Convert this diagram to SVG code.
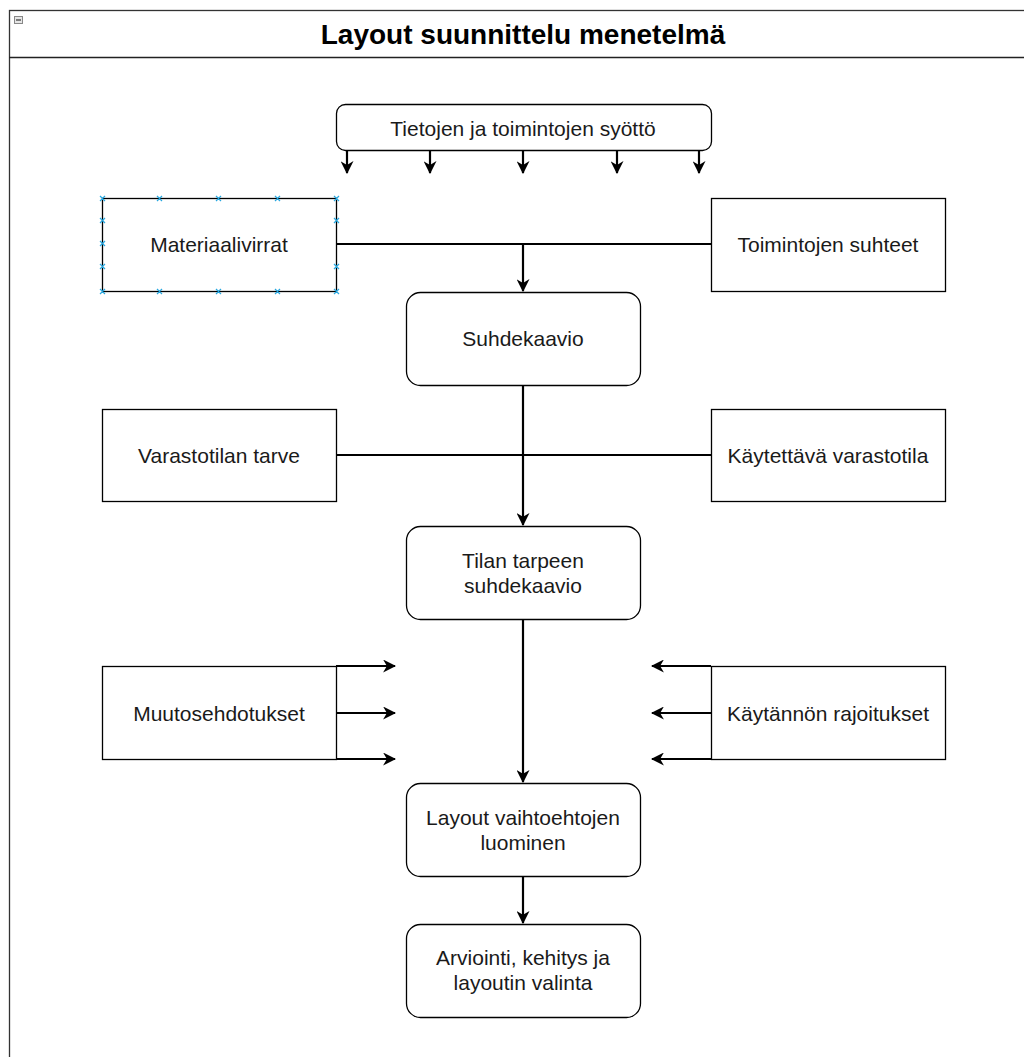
<svg xmlns="http://www.w3.org/2000/svg" width="1024" height="1057" viewBox="0 0 1024 1057">
<style>
.box{fill:#fff;stroke:#000;stroke-width:1.3}
.t{font-family:"Liberation Sans",Arial,sans-serif;font-size:21px;fill:#1a1a1a;text-anchor:middle;dominant-baseline:central}
.ttl{font-family:"Liberation Sans",Arial,sans-serif;font-size:28px;font-weight:bold;fill:#000;text-anchor:middle;dominant-baseline:central}
.c{fill:none;stroke:#000;stroke-width:2.2}
.h{stroke:#29a8e0;stroke-width:1.2}
</style>
<defs>
<marker id="b" viewBox="0 0 12 12" refX="11" refY="6" markerWidth="13" markerHeight="13" markerUnits="userSpaceOnUse" orient="auto">
<path d="M0,0 L12,6 L0,12 L3.5,6 z" fill="#000"/>
</marker>
</defs>
<rect width="1024" height="1057" fill="#fff"/>
<g id="container">
<rect x="9.5" y="10.5" width="1030" height="1060" fill="#fff" stroke="#333" stroke-width="1.3"/>
<line x1="9" y1="57.5" x2="1024" y2="57.5" stroke="#222" stroke-width="1.3"/>
<rect x="14.5" y="16.5" width="8" height="7" fill="#e6e6e6" stroke="#888" stroke-width="1"/>
<line x1="16" y1="20" x2="21" y2="20" stroke="#333" stroke-width="1.2"/>
<text class="ttl" x="523" y="34">Layout suunnittelu menetelmä</text>
</g>
<g id="connectors">
<line class="c" x1="347" y1="150" x2="347" y2="173" marker-end="url(#b)"/>
<line class="c" x1="430" y1="150" x2="430" y2="173" marker-end="url(#b)"/>
<line class="c" x1="523" y1="150" x2="523" y2="173" marker-end="url(#b)"/>
<line class="c" x1="617" y1="150" x2="617" y2="173" marker-end="url(#b)"/>
<line class="c" x1="699" y1="150" x2="699" y2="173" marker-end="url(#b)"/>
<line class="c" x1="336" y1="244" x2="711" y2="244"/>
<line class="c" x1="523" y1="244" x2="523" y2="291" marker-end="url(#b)"/>
<line class="c" x1="336" y1="455" x2="711" y2="455"/>
<line class="c" x1="523" y1="385" x2="523" y2="525" marker-end="url(#b)"/>
<line class="c" x1="523" y1="619" x2="523" y2="782" marker-end="url(#b)"/>
<line class="c" x1="523" y1="877" x2="523" y2="923" marker-end="url(#b)"/>
<line class="c" x1="336" y1="666" x2="395" y2="666" marker-end="url(#b)"/>
<line class="c" x1="336" y1="713" x2="395" y2="713" marker-end="url(#b)"/>
<line class="c" x1="336" y1="759" x2="395" y2="759" marker-end="url(#b)"/>
<line class="c" x1="711" y1="666" x2="652" y2="666" marker-end="url(#b)"/>
<line class="c" x1="711" y1="713" x2="652" y2="713" marker-end="url(#b)"/>
<line class="c" x1="711" y1="759" x2="652" y2="759" marker-end="url(#b)"/>
</g>
<g id="n-syotto"><rect class="box" x="336.5" y="104.5" width="375" height="46" rx="9"/><text class="t" x="523" y="128">Tietojen ja toimintojen syöttö</text></g>
<g id="n-materiaalivirrat"><rect class="box" x="102.5" y="198.5" width="234" height="93"/><text class="t" x="219" y="244">Materiaalivirrat</text>
<g class="h">
<path d="M100,196l5,5m0,-5l-5,5M157,196l5,5m0,-5l-5,5M216,196l5,5m0,-5l-5,5M275,196l5,5m0,-5l-5,5M334,196l5,5m0,-5l-5,5"/>
<path d="M100,289l5,5m0,-5l-5,5M157,289l5,5m0,-5l-5,5M216,289l5,5m0,-5l-5,5M275,289l5,5m0,-5l-5,5M334,289l5,5m0,-5l-5,5"/>
<path d="M100,218l5,5m0,-5l-5,5M100,241l5,5m0,-5l-5,5M100,264l5,5m0,-5l-5,5M334,218l5,5m0,-5l-5,5M334,264l5,5m0,-5l-5,5"/>
</g></g>
<g id="n-toimintojen"><rect class="box" x="711.5" y="198.5" width="234" height="93"/><text class="t" x="828" y="244">Toimintojen suhteet</text></g>
<g id="n-suhdekaavio"><rect class="box" x="406.5" y="292.5" width="234" height="93" rx="14"/><text class="t" x="523" y="338">Suhdekaavio</text></g>
<g id="n-varastotilan"><rect class="box" x="102.5" y="409.5" width="234" height="92"/><text class="t" x="219" y="455">Varastotilan tarve</text></g>
<g id="n-kaytettava"><rect class="box" x="711.5" y="409.5" width="234" height="92"/><text class="t" x="828" y="455">Käytettävä varastotila</text></g>
<g id="n-tilan"><rect class="box" x="406.5" y="526.5" width="234" height="93" rx="14"/><text class="t" x="523" y="560">Tilan tarpeen</text><text class="t" x="523" y="585">suhdekaavio</text></g>
<g id="n-muutos"><rect class="box" x="102.5" y="666.5" width="234" height="93"/><text class="t" x="219" y="713">Muutosehdotukset</text></g>
<g id="n-kaytannon"><rect class="box" x="711.5" y="666.5" width="234" height="93"/><text class="t" x="828" y="713">Käytännön rajoitukset</text></g>
<g id="n-layout"><rect class="box" x="406.5" y="783.5" width="234" height="93" rx="14"/><text class="t" x="523" y="817">Layout vaihtoehtojen</text><text class="t" x="523" y="842">luominen</text></g>
<g id="n-arviointi"><rect class="box" x="406.5" y="924.5" width="234" height="93" rx="14"/><text class="t" x="523" y="957">Arviointi, kehitys ja</text><text class="t" x="523" y="982">layoutin valinta</text></g>
</svg>
